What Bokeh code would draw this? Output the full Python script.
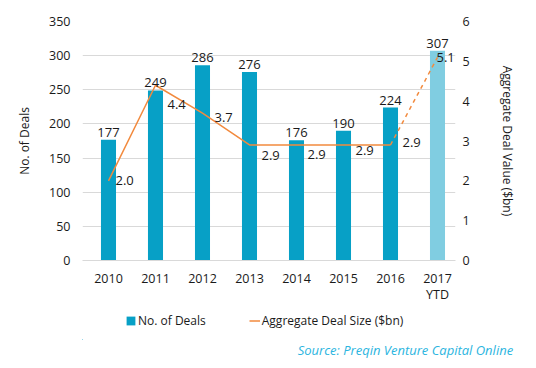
from bokeh.plotting import figure
from bokeh.layouts import column
from bokeh.models import (Range1d, LinearAxis, ColumnDataSource, Legend, LegendItem,
                          LabelSet, FixedTicker, Title)
from bokeh.core.properties import value
from bokeh.embed import file_html
from bokeh.resources import INLINE

# ---- data ----
years = ["2010", "2011", "2012", "2013", "2014", "2015", "2016", "2017\nYTD"]
deals = [177, 249, 286, 276, 176, 190, 224, 307]
agg_value = [2.0, 4.4, 3.7, 2.9, 2.9, 2.9, 2.9, 5.1]
deal_ticks = [0, 50, 100, 150, 200, 250, 300, 350]
value_ticks = [0, 1, 2, 3, 4, 5, 6]
series_names = ["No. of Deals", "Aggregate Deal Size ($bn)"]
source_note = "Source: Preqin Venture Capital  Online"

# label placement (screen px offsets for line value labels)
lab_dx = [7, 12, 12, 12, 11, 12, 12, -1]
lab_dy = [0, -19, -4, -11, -10, -6, 2, 0]

BAR = "#07A0C6"
BAR_LIGHT = "#80CDE1"
ORANGE = "#F28A3E"
TXT = "#1A1A1A"
FONT = value("Open Sans")

xs = list(range(len(years)))

p = figure(width=536, height=305, output_backend="svg", toolbar_location=None,
           x_range=Range1d(-0.553, 7.383), y_range=Range1d(0, 350),
           min_border_left=82, min_border_right=81, min_border_top=21,
           min_border_bottom=44)
p.outline_line_color = None
p.xgrid.grid_line_color = None
p.ygrid.grid_line_color = "#D9D9D9"
p.ygrid.grid_line_width = 1
p.extra_y_ranges = {"val": Range1d(0, 6)}

# bars
src_main = ColumnDataSource(dict(x=xs[:-1], top=deals[:-1]))
src_last = ColumnDataSource(dict(x=xs[-1:], top=deals[-1:]))
p.vbar(x="x", top="top", width=0.32, source=src_main, fill_color=BAR, line_color=None)
p.vbar(x="x", top="top", width=0.32, source=src_last, fill_color=BAR_LIGHT, line_color=None)

# bar labels
src_lab = ColumnDataSource(dict(x=xs, y=deals, t=[str(d) for d in deals]))
p.add_layout(LabelSet(x="x", y="y", text="t", source=src_lab, text_align="center",
                      text_baseline="bottom", y_offset=3, text_font=FONT,
                      text_font_size=value("13px"), text_color=TXT))

# line
p.line(xs[:-1], agg_value[:-1], y_range_name="val", line_color=ORANGE, line_width=1.5)
p.line(xs[-2:], agg_value[-2:], y_range_name="val", line_color=ORANGE, line_width=1.5,
       line_dash="4 4")

# line labels
src_vl = ColumnDataSource(dict(x=xs, y=agg_value, t=["%.1f" % v for v in agg_value],
                               dx=lab_dx, dy=lab_dy))
p.add_layout(LabelSet(x="x", y="y", text="t", source=src_vl, y_range_name="val",
                      text_align="left", text_baseline="middle", x_offset="dx", y_offset="dy",
                      text_font=FONT, text_font_size=value("13px"), text_color=TXT))

# axes
p.xaxis.ticker = FixedTicker(ticks=xs)
p.xaxis.major_label_overrides = {i: y for i, y in enumerate(years)}
for ax in [p.xaxis[0], p.yaxis[0]]:
    ax.axis_line_color = None
    ax.major_tick_line_color = None
    ax.minor_tick_line_color = None
    ax.major_tick_out = 0
    ax.major_tick_in = 0
    ax.major_label_text_font = "Open Sans"
    ax.major_label_text_font_size = "12.5px"
    ax.major_label_text_color = TXT
p.xaxis.axis_line_color = "#D9D9D9"
p.xaxis.major_label_standoff = 9
p.xaxis.major_label_text_line_height = 0.95
p.yaxis.ticker = FixedTicker(ticks=deal_ticks)
p.yaxis.major_label_standoff = 12
p.yaxis.axis_label = "No. of Deals"
p.yaxis.axis_label_standoff = 13
p.yaxis.axis_label_text_font = "Open Sans"
p.yaxis.axis_label_text_font_style = "normal"
p.yaxis.axis_label_text_font_size = "12px"
p.yaxis.axis_label_text_color = TXT

ax2 = LinearAxis(y_range_name="val", ticker=FixedTicker(ticks=value_ticks))
ax2.axis_line_color = None
ax2.major_tick_line_color = None
ax2.minor_tick_line_color = None
ax2.major_tick_out = 0
ax2.major_tick_in = 0
ax2.major_label_standoff = 7
ax2.major_label_text_font = "Open Sans"
ax2.major_label_text_font_size = "12.5px"
ax2.major_label_text_color = TXT
ax2.axis_label = "Aggregate Deal Value ($bn)"
ax2.axis_label_standoff = 26
ax2.axis_label_text_font = "Open Sans"
ax2.axis_label_text_font_style = "normal"
ax2.axis_label_text_font_size = "12px"
ax2.axis_label_text_color = TXT
p.add_layout(ax2, "right")

# ---- legend + source strip (its renderers lie far outside this strip's ranges) ----
q = figure(width=536, height=63, output_backend="svg", toolbar_location=None,
           x_range=Range1d(1000, 1001), y_range=Range1d(5000, 5001), min_border_top=0,
           min_border_bottom=29, min_border_left=82, min_border_right=81)
q.outline_line_color = None
q.axis.visible = False
q.grid.visible = False
lb = q.vbar(x=xs, top=deals, width=0.32, fill_color=BAR, line_color=None)
ll = q.line(xs, agg_value, line_color=ORANGE, line_width=1.5)
legend = Legend(items=[LegendItem(label=series_names[0], renderers=[lb]),
                       LegendItem(label=series_names[1], renderers=[ll])],
                location=(43, 10), orientation="horizontal", padding=0, margin=0,
                spacing=43, label_standoff=2, glyph_width=11, glyph_height=11,
                label_height=12, border_line_color=None, background_fill_alpha=0,
                label_text_font="Open Sans", label_text_font_size="12px",
                label_text_color=TXT)
q.add_layout(legend, "center")
q.add_layout(Title(text=source_note, align="right", offset=-61, standoff=0,
                   vertical_align="middle", text_font="Open Sans", text_font_size="13px",
                   text_font_style="italic", text_color="#2BB5E0"), "below")

open("out.html", "w").write(file_html(column(p, q, spacing=0), INLINE))
